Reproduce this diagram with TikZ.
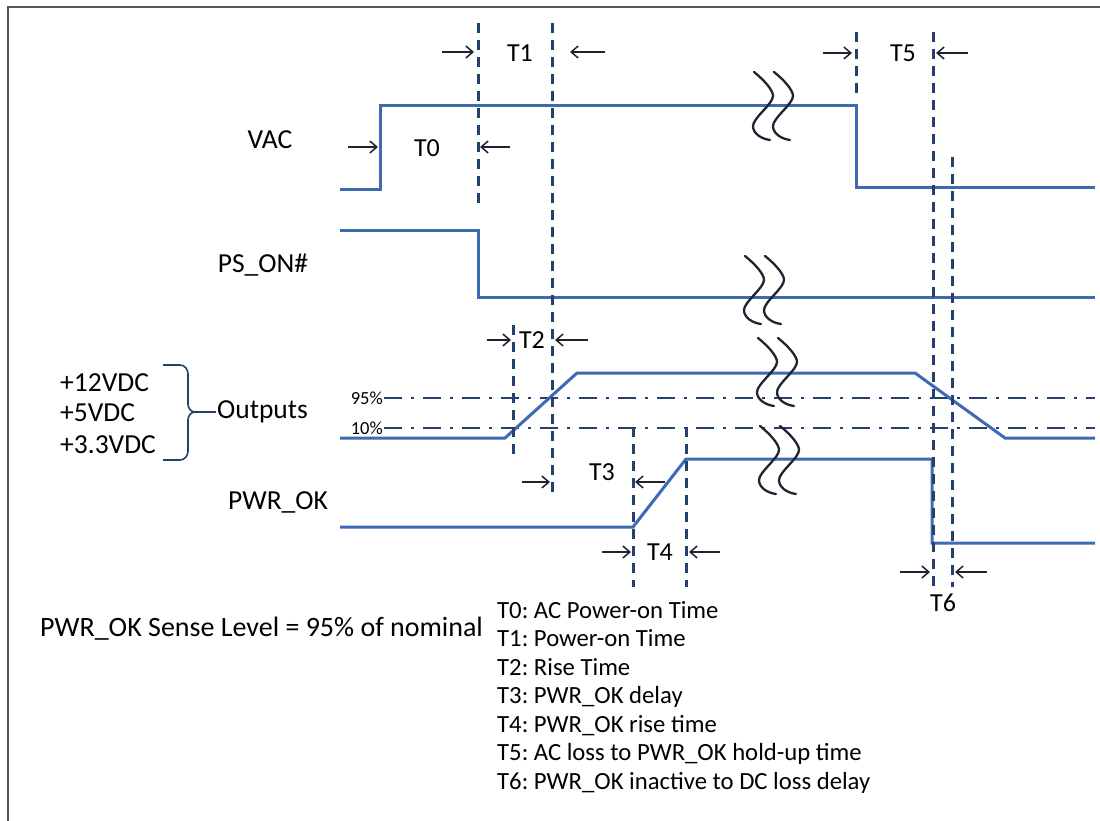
\documentclass[tikz,border=0pt]{standalone}
\usepackage{fontspec}
\setmainfont{Carlito}
\usetikzlibrary{arrows.meta,positioning}
\definecolor{sigblue}{RGB}{62,106,180}
\definecolor{guidenavy}{RGB}{38,64,110}
\definecolor{inkdark}{RGB}{30,36,48}
\definecolor{framegray}{RGB}{85,85,85}
\frenchspacing

% break symbol on a signal (two wavy strokes)
\newcommand{\sigbreak}[2]{%
  \foreach \dx in {0,20}
    \draw[breakmark, shift={(#1+\dx,#2)}] (-8,-34) .. controls (2,-26) and (11,-16) .. (11,-10)
      .. controls (11,-2) and (-9,12) .. (-9,20) .. controls (-9,28) and (0,33) .. (8,34);}

\begin{document}
\begin{tikzpicture}[x=1pt, y=-1pt,
    every node/.style={text=black, inner sep=1pt},
    lbl/.style={font=\fontsize{27.5}{32}\selectfont},
    tlbl/.style={font=\fontsize{26}{30}\selectfont},
    pct/.style={font=\fontsize{18.5}{21}\selectfont},
    legtext/.style={font=\fontsize{24.7}{28}\selectfont},
    signal/.style={draw=sigblue, line width=3pt, line join=miter},
    guide/.style={draw=guidenavy, line width=3pt, dash pattern=on 10pt off 7pt},
    level/.style={draw=guidenavy, line width=2.5pt, dash pattern=on 18pt off 9pt on 3pt off 9pt},
    dimarrow/.style={draw=inkdark, line width=1.5pt, -{Straight Barb[length=7pt,width=12pt]}},
    breakmark/.style={draw=inkdark, line width=2.3pt, line cap=round}]
    \useasboundingbox (0,0) rectangle (1100,821);

    % Frame
    \draw[framegray, line width=2.5pt] (8,821) -- (8,7) -- (1100,7);

    % Signal names
    \node[lbl] (vac) at (270,140) {VAC};
    \node[lbl] (pson) at (263,265) {PS\_ON\#};
    \node[lbl, anchor=west] (v12) at (59,383) {+12VDC};
    \node[lbl, anchor=west] (v5) at (59,413) {+5VDC};
    \node[lbl, anchor=west] (v33) at (59,445) {+3.3VDC};
    \node[lbl, anchor=west] (outs) at (216,412) {Outputs};
    \node[lbl] (pwrok) at (278,502) {PWR\_OK};

    % Brace grouping the rails
    \coordinate (bracetip) at (195,412);
    \draw[guidenavy, line width=1.6pt] (163,365) -- (180,365) to[out=0,in=90] (188,374) -- (188,404)
        to[out=-90,in=180] (bracetip) to[out=180,in=90] (188,420) -- (188,451) to[out=-90,in=0] (180,460) -- (163,460);
    \draw[guidenavy, line width=1.6pt] (bracetip) -- (outs.west);

    % Level lines
    \node[pct, anchor=east] (p95) at (384,398) {95\%};
    \node[pct, anchor=east] (p10) at (384,428) {10\%};
    \draw[level] (p95.east) -- (1095,398);
    \draw[level] (p10.east) -- (1095,428);

    % Signals
    \draw[signal] (340,190) -- (380,190) -- (380,106) -- (856,106) -- (856,188) -- (1095,188);
    \draw[signal] (340,230) -- (478,230) -- (478,297) -- (1095,297);
    \draw[signal] (340,438) -- (505,438) -- (577,373) -- (915,373) -- (1005,438) -- (1095,438);
    \draw[signal] (340,527) -- (633,527) -- (686,459) -- (932,459) -- (932,543) -- (1095,543);

    % Breaks
    \sigbreak{762}{106}
    \sigbreak{753}{290}
    \sigbreak{766}{372}
    \sigbreak{768}{460}

    % Guide lines
    \draw[guide] (478,23) -- (478,207);
    \draw[guide] (552,23) -- (552,497);
    \draw[guide] (513,325) -- (513,460);
    \draw[guide] (633,427) -- (633,587);
    \draw[guide] (686,427) -- (686,587);
    \draw[guide] (856,32) -- (856,93);
    \draw[guide] (933,32) -- (933,587);
    \draw[guide] (952,157) -- (952,587);

    % Interval labels and arrows
    \node[tlbl] (t0) at (427,148) {T0};
    \draw[dimarrow] (348,147) -- (378,147);
    \draw[dimarrow] (510,147) -- (480,147);
    \node[tlbl] (t1) at (520,53) {T1};
    \draw[dimarrow] (442,52) -- (474,52);
    \draw[dimarrow] (605,52) -- (570,52);
    \node[tlbl] (t2) at (532,340) {T2};
    \draw[dimarrow] (487,340) -- (511,340);
    \draw[dimarrow] (588,340) -- (555,340);
    \node[tlbl] (t3) at (602,472) {T3};
    \draw[dimarrow] (522,482) -- (550,482);
    \draw[dimarrow] (665,482) -- (635,482);
    \node[tlbl] (t4) at (660,552) {T4};
    \draw[dimarrow] (602,552) -- (631,552);
    \draw[dimarrow] (720,552) -- (689,552);
    \node[tlbl] (t5) at (903,53) {T5};
    \draw[dimarrow] (823,53) -- (852,53);
    \draw[dimarrow] (968,53) -- (936,53);
    \node[tlbl] (t6) at (943,603) {T6};
    \draw[dimarrow] (900,572) -- (930,572);
    \draw[dimarrow] (987,572) -- (955,572);

    % Legend
    \node[font=\fontsize{28}{32}\selectfont, anchor=base west] (sense) at (39,636) {PWR\_OK Sense Level = 95\% of nominal};
    \foreach \txt [count=\i from 0] in {T0: AC Power-on Time, T1: Power-on Time, T2: Rise Time,
        T3: PWR\_OK delay, T4: PWR\_OK rise time, T5: AC loss to PWR\_OK hold-up time,
        T6: PWR\_OK inactive to DC loss delay}
        \node[legtext, anchor=base west] (leg\i) at (496,618+28.5*\i) {\txt};
\end{tikzpicture}
\end{document}
